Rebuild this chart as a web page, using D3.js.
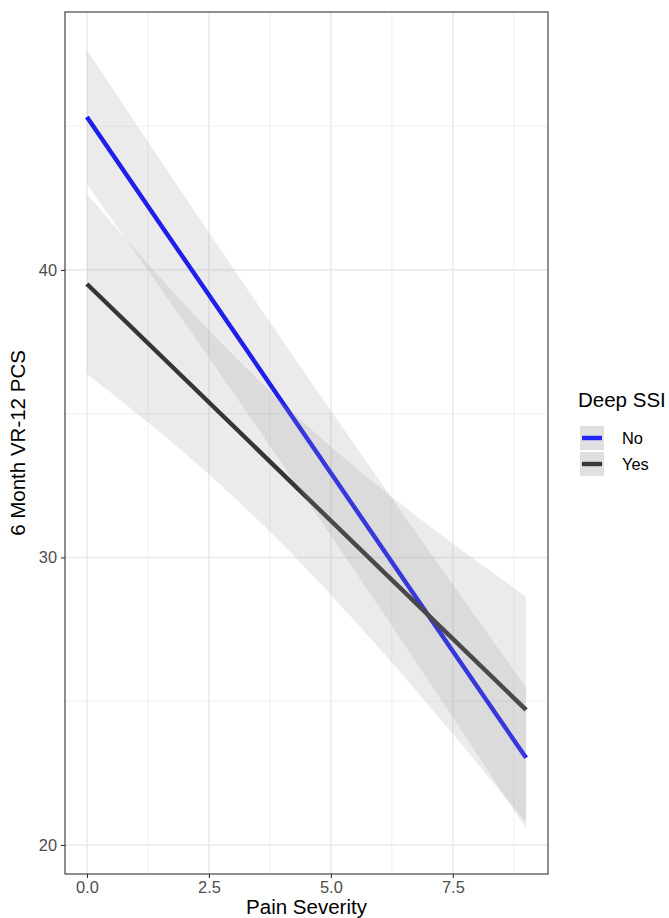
<!DOCTYPE html>
<html>
<head>
<meta charset="utf-8">
<script src="https://cdn.jsdelivr.net/npm/d3@7"></script>
<style>
  html, body { margin: 0; padding: 0; background: #fff; }
  svg { display: block; font-family: "Liberation Sans", Arial, sans-serif; }
</style>
</head>
<body>
<svg id="chart" width="669" height="918"></svg>
<script>
// ---- data ----
const groups = ["No", "Yes"];
const groupColors = ["#0000ff", "#1c1c1c"];
const xSample = [0, 1.5, 3, 4.5, 6, 7.5, 9];
const fitNo    = [45.32, 41.60, 37.89, 34.17, 30.46, 26.74, 23.03];
const lowerNo  = [42.99, 39.38, 35.73, 32.01, 28.25, 24.43, 20.58];
const upperNo  = [47.65, 43.82, 40.05, 36.33, 32.67, 29.05, 25.48];
const fitYes   = [39.51, 37.04, 34.57, 32.10, 29.63, 27.17, 24.70];
const lowerYes = [36.38, 34.35, 32.11, 29.60, 26.82, 23.86, 20.77];
const upperYes = [42.64, 39.73, 37.03, 34.60, 32.44, 30.48, 28.63];
const xTicks = [0, 2.5, 5, 7.5];
const xTickLabels = ["0.0", "2.5", "5.0", "7.5"];
const xMinor = [1.25, 3.75, 6.25, 8.75];
const yTicks = [20, 30, 40];
const yMinor = [25, 35, 45];
const xTitle = "Pain Severity";
const yTitle = "6 Month VR-12 PCS";
const legendTitle = "Deep SSI";

const series = [
  { name: groups[0], color: groupColors[0], fit: fitNo, lo: lowerNo, hi: upperNo },
  { name: groups[1], color: groupColors[1], fit: fitYes, lo: lowerYes, hi: upperYes }
];

// ---- layout ----
const svg = d3.select("#chart");
const panel = { left: 65, right: 548, top: 12, bottom: 874 };

const x = d3.scaleLinear().domain([-0.45, 9.45]).range([panel.left, panel.right]);
const y = d3.scaleLinear().domain([18.99, 48.97]).range([panel.bottom, panel.top]);

svg.append("rect").attr("x", panel.left).attr("y", panel.top)
  .attr("width", panel.right - panel.left).attr("height", panel.bottom - panel.top)
  .attr("fill", "#fff");

const grid = svg.append("g");
grid.selectAll(".xmin").data(xMinor).enter().append("line")
  .attr("x1", d => x(d)).attr("x2", d => x(d)).attr("y1", panel.top).attr("y2", panel.bottom)
  .attr("stroke", "#ebebeb").attr("stroke-width", 0.8);
grid.selectAll(".ymin").data(yMinor).enter().append("line")
  .attr("y1", d => y(d)).attr("y2", d => y(d)).attr("x1", panel.left).attr("x2", panel.right)
  .attr("stroke", "#ebebeb").attr("stroke-width", 0.8);
grid.selectAll(".xmaj").data(xTicks).enter().append("line")
  .attr("x1", d => x(d)).attr("x2", d => x(d)).attr("y1", panel.top).attr("y2", panel.bottom)
  .attr("stroke", "#ebebeb").attr("stroke-width", 1.6);
grid.selectAll(".ymaj").data(yTicks).enter().append("line")
  .attr("y1", d => y(d)).attr("y2", d => y(d)).attr("x1", panel.left).attr("x2", panel.right)
  .attr("stroke", "#ebebeb").attr("stroke-width", 1.6);

// lines first, ribbons over them (as in the reference, ribbons tint the lines)
const lineGen = d3.line().x(d => x(d[0])).y(d => y(d[1])).curve(d3.curveLinear);
const areaGen = d3.area().x(d => x(d[0])).y0(d => y(d[1])).y1(d => y(d[2])).curve(d3.curveNatural);

series.forEach(s => {
  svg.append("path")
    .datum(xSample.map((xv, i) => [xv, s.fit[i]]))
    .attr("d", lineGen).attr("fill", "none").attr("stroke", s.color)
    .attr("stroke-width", 4.4).attr("stroke-linecap", "butt");
});
series.forEach(s => {
  svg.append("path")
    .datum(xSample.map((xv, i) => [xv, s.lo[i], s.hi[i]]))
    .attr("d", areaGen).attr("fill", "#999999").attr("fill-opacity", 0.2);
});

svg.append("rect").attr("x", panel.left).attr("y", panel.top)
  .attr("width", panel.right - panel.left).attr("height", panel.bottom - panel.top)
  .attr("fill", "none").attr("stroke", "#333333").attr("stroke-width", 1.1);

// axes
const xAxis = d3.axisBottom(x).tickValues(xTicks).tickFormat((d, i) => xTickLabels[i])
  .tickSizeInner(4).tickSizeOuter(0).tickPadding(3);
const gx = svg.append("g").attr("transform", `translate(0,${panel.bottom})`).call(xAxis);
gx.attr("font-size", null).attr("font-family", null);
gx.select(".domain").remove();
gx.selectAll(".tick line").attr("stroke", "#333333").attr("stroke-width", 1.1);
gx.selectAll(".tick text").attr("fill", "#4d4d4d")
  .style("font-size", "16.4px").style("font-family", "'Liberation Sans', Arial, sans-serif");

const yAxis = d3.axisLeft(y).tickValues(yTicks).tickFormat(d3.format("d"))
  .tickSizeInner(4).tickSizeOuter(0).tickPadding(4);
const gy = svg.append("g").attr("transform", `translate(${panel.left},0)`).call(yAxis);
gy.attr("font-size", null).attr("font-family", null);
gy.select(".domain").remove();
gy.selectAll(".tick line").attr("stroke", "#333333").attr("stroke-width", 1.1);
gy.selectAll(".tick text").attr("fill", "#4d4d4d")
  .style("font-size", "16.4px").style("font-family", "'Liberation Sans', Arial, sans-serif");

// axis titles
svg.append("text").attr("x", (panel.left + panel.right) / 2).attr("y", 914)
  .attr("text-anchor", "middle").style("font-size", "20.5px").attr("fill", "#000").text(xTitle);
svg.append("text")
  .attr("transform", `translate(25,${(panel.top + panel.bottom) / 2}) rotate(-90)`)
  .attr("text-anchor", "middle").style("font-size", "20.5px").attr("fill", "#000").text(yTitle);

// legend
const lg = svg.append("g").attr("transform", "translate(578,0)");
lg.append("text").attr("x", 0).attr("y", 407).style("font-size", "20.5px").attr("fill", "#000").text(legendTitle);
series.forEach((s, i) => {
  const ky = 426 + i * 26;
  lg.append("rect").attr("x", 2).attr("y", ky).attr("width", 24).attr("height", 24)
    .attr("fill", "#f2f2f2");
  lg.append("rect").attr("x", 2).attr("y", ky).attr("width", 24).attr("height", 24)
    .attr("fill", "#999999").attr("fill-opacity", 0.2);
  lg.append("line").attr("x1", 4).attr("x2", 24).attr("y1", ky + 12).attr("y2", ky + 12)
    .attr("stroke", s.color).attr("stroke-width", 4.4).attr("stroke-opacity", 0.85);
  lg.append("text").attr("x", 44).attr("y", ky + 18).style("font-size", "16.4px").attr("fill", "#000").text(s.name);
});
</script>
</body>
</html>
